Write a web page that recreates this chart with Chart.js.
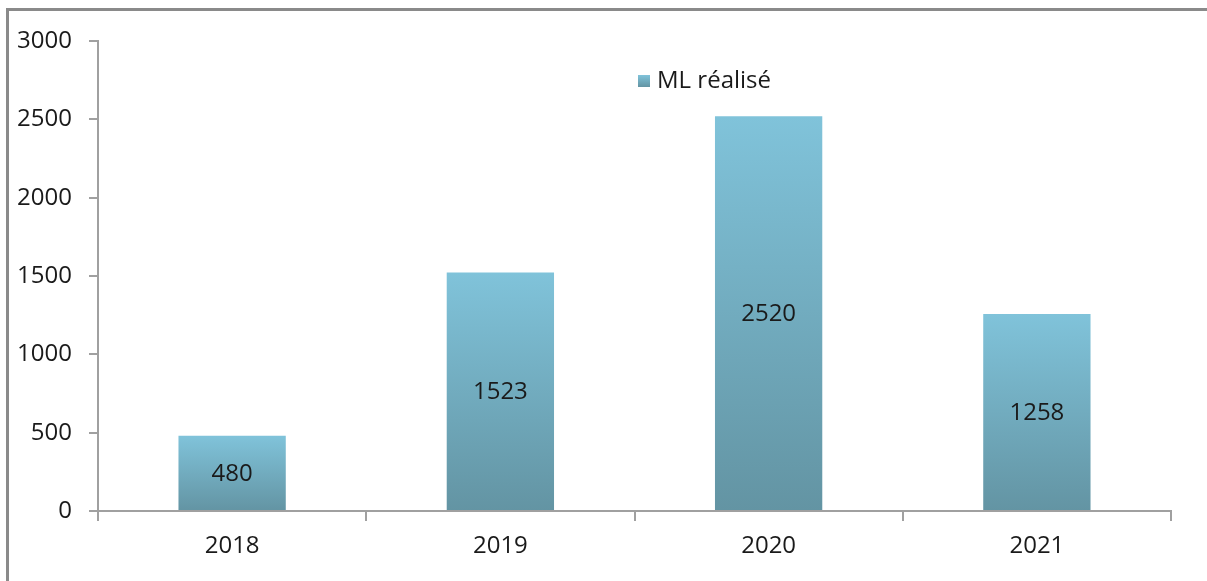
<!DOCTYPE html>
<html>
<head>
<meta charset="utf-8">
<script src="https://cdn.jsdelivr.net/npm/chart.js@4/dist/chart.umd.min.js"></script>
<style>
    html, body { margin: 0; padding: 0; background: #fff; overflow: hidden; }
    #wrap { position: relative; width: 1207px; height: 581px; }
    #frame {
        position: absolute; left: 6px; top: 8px; width: 1400px; height: 800px;
        border-top: 3px solid #8a8a8a; border-left: 3px solid #8a8a8a;
        pointer-events: none;
    }
    canvas { position: absolute; left: 0; top: 0; }
</style>
</head>
<body>
<div id="wrap">
    <canvas id="ml-chart" width="1207" height="581"></canvas>
    <div id="frame"></div>
</div>
<script>
const years = ["2018", "2019", "2020", "2021"];
const ml_realise = [480, 1523, 2520, 1258];
const y_ticks = [0, 500, 1000, 1500, 2000, 2500, 3000];
const series_name = "ML réalisé";

const font_family = "'Open Sans', sans-serif";
const font_size = 24;
const axis_color = "#a0a0a0";

function bar_gradient(ctx, top, bottom) {
    let g = ctx.createLinearGradient(0, top, 0, bottom);
    g.addColorStop(0, "#80c3da");
    g.addColorStop(1, "#6394a3");
    return g;
}

// labels in the middle of each bar + legend inside the plot
const bar_labels = {
    id: "bar_labels",
    afterDatasetsDraw(chart) {
        const ctx = chart.ctx;
        const meta = chart.getDatasetMeta(0);
        ctx.save();
        ctx.font = font_size + "px " + font_family;
        ctx.fillStyle = "#1a1a1a";
        ctx.textAlign = "center";
        ctx.textBaseline = "middle";
        meta.data.forEach((bar, i) => {
            const mid = (bar.y + bar.base) / 2 + 1;
            ctx.fillText(String(ml_realise[i]), bar.x, mid);
        });

        // legend
        const area = chart.chartArea;
        const lx = area.left + 540;
        const ly = area.top + 40;
        ctx.fillStyle = bar_gradient(ctx, ly - 6, ly + 6);
        ctx.fillRect(lx, ly - 6, 12, 12);
        ctx.fillStyle = "#1a1a1a";
        ctx.textAlign = "left";
        ctx.fillText(series_name, lx + 19, ly);
        ctx.restore();
    }
};

const ctx = document.getElementById("ml-chart").getContext("2d");
const ml_chart = new Chart(ctx, {
    type: "bar",
    data: {
        labels: years,
        datasets: [{
            label: series_name,
            data: ml_realise,
            backgroundColor: (c) => {
                const chart = c.chart;
                if (!chart.chartArea || c.type !== "data") return "#72adc0";
                const y = chart.scales.y;
                return bar_gradient(chart.ctx, y.getPixelForValue(c.parsed.y), y.getPixelForValue(0));
            },
            borderWidth: 0,
            categoryPercentage: 1,
            barPercentage: 0.4
        }]
    },
    options: {
        responsive: false,
        animation: false,
        layout: { padding: { top: 41, right: 36, left: 0, bottom: 0 } },
        plugins: {
            legend: { display: false },
            tooltip: { enabled: false }
        },
        scales: {
            x: {
                afterFit: (s) => { s.height = 70; },
                grid: {
                    display: true,
                    drawOnChartArea: false,
                    offset: true,
                    tickLength: 10,
                    tickColor: axis_color,
                    lineWidth: 2
                },
                border: { display: true, color: axis_color, width: 2 },
                ticks: {
                    padding: 11,
                    color: "#1a1a1a",
                    font: { family: font_family, size: font_size }
                }
            },
            y: {
                min: 0,
                max: 3000,
                afterFit: (s) => { s.width = 98; },
                afterBuildTicks: (s) => { s.ticks = y_ticks.map((v) => ({ value: v })); },
                grid: {
                    display: true,
                    drawOnChartArea: false,
                    tickLength: 9,
                    tickColor: axis_color,
                    lineWidth: 2
                },
                border: { display: true, color: axis_color, width: 2 },
                ticks: {
                    padding: 17,
                    color: "#1a1a1a",
                    font: { family: font_family, size: font_size },
                    callback: (v) => String(v)
                }
            }
        }
    },
    plugins: [bar_labels]
});
</script>
</body>
</html>
